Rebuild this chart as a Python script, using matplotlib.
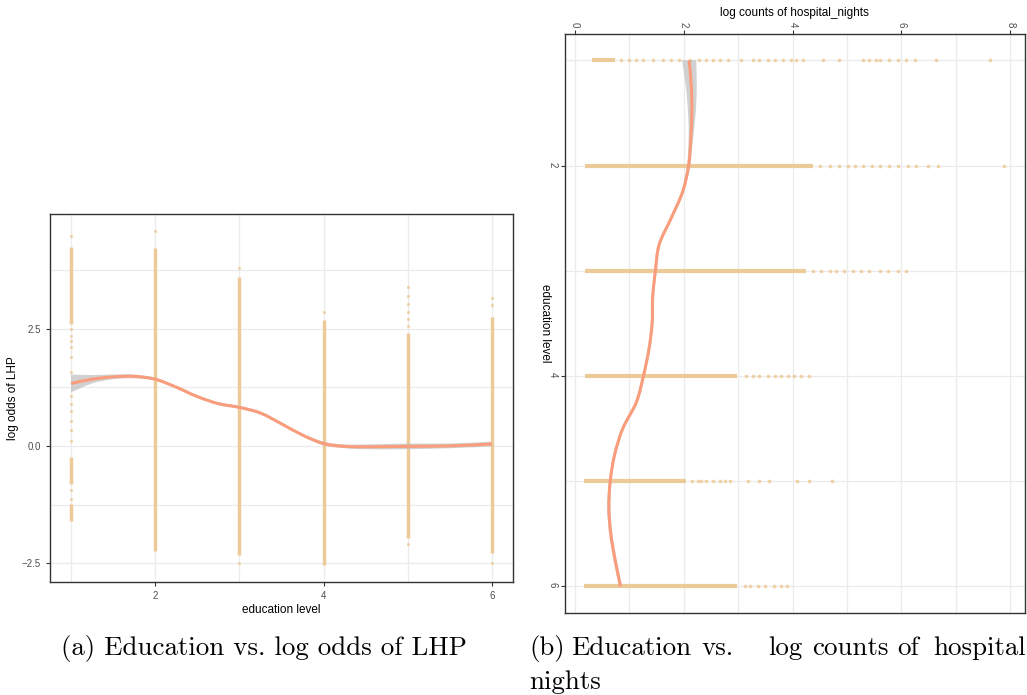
import numpy as np
import matplotlib
matplotlib.use('Agg')
import matplotlib.pyplot as plt
from matplotlib.path import Path
from matplotlib.patches import PathPatch

plt.rcParams['font.family'] = ['Liberation Sans', 'DejaVu Sans']

# ---- panel (a): education level vs log odds of LHP ----
edu_levels = [1, 2, 3, 4, 5, 6]
# dense strips of points per level: (level, y_low, y_high)
lhp_strips = [
    (1, 2.60, 4.23), (1, -0.81, -0.24), (1, -1.59, -1.23),
    (2, -2.25, 4.21),
    (3, -2.32, 3.60),
    (4, -2.53, 2.68),
    (5, -1.96, 2.40),
    (6, -2.28, 2.75),
]
# sparse single points
lhp_pts_x = [1, 1, 1, 1, 1, 1, 1, 1, 1, 1, 1, 1, 1, 1, 1,
             2, 3, 3, 4, 5, 5, 5, 5, 5, 5, 5, 6, 6, 6]
lhp_pts_y = [4.47, 2.49, 2.35, 2.24, 2.10, 1.89, 1.57, 1.07, 0.89, 0.75, 0.54, 0.33, 0.11, -0.95, -1.13,
             4.58, 3.78, -2.50, 2.86, 3.39, 3.20, 3.02, 2.85, 2.70, 2.55, -2.10, 3.14, 3.00, -2.50]
# smooth fit
lhp_fit_x = [1.0, 1.25, 1.5, 1.75, 2.0, 2.25, 2.5, 2.75, 3.0, 3.25, 3.5, 3.75, 4.0, 4.25, 4.5, 5.0, 5.5, 6.0]
lhp_fit_y = [1.33, 1.42, 1.47, 1.48, 1.42, 1.25, 1.05, 0.90, 0.82, 0.70, 0.47, 0.23, 0.05, -0.01, -0.02, -0.01, 0.00, 0.04]
lhp_fit_se = [0.19, 0.09, 0.05, 0.04, 0.03, 0.03, 0.03, 0.03, 0.03, 0.03, 0.03, 0.03, 0.04, 0.04, 0.05, 0.06, 0.05, 0.05]

# ---- panel (b): education level vs log counts of hospital nights ----
nights_strips = [
    (1, 0.32, 0.73),
    (2, 0.19, 4.37),
    (3, 0.19, 4.25),
    (4, 0.19, 2.97),
    (5, 0.16, 2.05),
    (6, 0.16, 2.97),
]
nights_pts = {
    1: [0.85, 1.00, 1.13, 1.25, 1.43, 1.62, 1.77, 1.92, 2.11, 2.29, 2.41, 2.54, 2.66, 2.81, 3.06, 3.27,
        3.39, 3.55, 3.67, 3.82, 3.98, 4.07, 4.19, 4.56, 4.86, 5.29, 5.41, 5.54, 5.60, 5.78, 5.93, 6.09,
        6.24, 6.64, 7.62],
    2: [4.50, 4.68, 4.86, 5.02, 5.14, 5.29, 5.45, 5.60, 5.78, 5.93, 6.12, 6.27, 6.49, 6.67, 7.88],
    3: [4.37, 4.53, 4.68, 4.80, 4.95, 5.11, 5.26, 5.41, 5.60, 5.75, 5.93, 6.09],
    4: [3.15, 3.27, 3.39, 3.55, 3.67, 3.79, 3.91, 4.02, 4.16, 4.30],
    5: [2.16, 2.26, 2.32, 2.41, 2.54, 2.66, 2.75, 2.85, 3.18, 3.39, 3.56, 4.08, 4.30, 4.73],
    6: [3.12, 3.21, 3.36, 3.50, 3.65, 3.78, 3.90],
}
nights_fit_edu = [1.0, 1.25, 1.5, 1.75, 2.0, 2.25, 2.5, 2.75, 3.0, 3.25, 3.5, 3.75, 4.0, 4.25, 4.5, 4.75,
                  5.0, 5.25, 5.5, 5.75, 6.0]
nights_fit_val = [2.10, 2.14, 2.15, 2.13, 2.09, 1.98, 1.77, 1.55, 1.48, 1.43, 1.42, 1.36, 1.26, 1.13, 0.88,
                  0.73, 0.65, 0.625, 0.66, 0.74, 0.84]
nights_fit_se = [0.13, 0.10, 0.07, 0.04, 0.03, 0.025, 0.025, 0.025, 0.025, 0.025, 0.025, 0.025, 0.025, 0.025,
                 0.025, 0.025, 0.025, 0.03, 0.03, 0.03, 0.03]

pt_color = '#EDC994'
fit_color = '#F99D7C'
band_color = '#BEBEBE'
grid_color = '#EBEBEB'


def curve_segments(xs, ys):
    # cubic bezier control points through the read points (Catmull-Rom)
    p = np.column_stack([xs, ys]).astype(float)
    n = len(p)
    verts, codes = [], []
    for i in range(n - 1):
        p0 = p[max(i - 1, 0)]
        p1 = p[i]
        p2 = p[i + 1]
        p3 = p[min(i + 2, n - 1)]
        verts += [p1 + (p2 - p0) / 6, p2 - (p3 - p1) / 6, p2]
        codes += [Path.CURVE4] * 3
    return verts, codes


def smooth_line(ax, xs, ys, **kw):
    v, c = curve_segments(xs, ys)
    path = Path([(xs[0], ys[0])] + v, [Path.MOVETO] + c)
    ax.add_patch(PathPatch(path, fill=False, **kw))


def smooth_band(ax, xs, lo, hi, horizontal=True, **kw):
    xs = np.asarray(xs, float)
    lo = np.asarray(lo, float)
    hi = np.asarray(hi, float)
    if horizontal:
        up_v, up_c = curve_segments(xs, hi)
        dn_v, dn_c = curve_segments(xs[::-1], lo[::-1])
        start, mid = (xs[0], hi[0]), (xs[-1], lo[-1])
    else:
        up_v, up_c = curve_segments(hi, xs)
        dn_v, dn_c = curve_segments(lo[::-1], xs[::-1])
        start, mid = (hi[0], xs[0]), (lo[-1], xs[-1])
    verts = [start] + up_v + [mid] + dn_v + [start]
    codes = [Path.MOVETO] + up_c + [Path.LINETO] + dn_c + [Path.CLOSEPOLY]
    ax.add_patch(PathPatch(Path(verts, codes), linewidth=0, **kw))


def style_axes(ax):
    for s in ax.spines.values():
        s.set_color('#333333')
        s.set_linewidth(1.0)
    ax.tick_params(colors='#333333', labelcolor='#4D4D4D', labelsize=7, length=3, width=0.8)
    ax.grid(True, which='both', color=grid_color, linewidth=0.9)
    ax.set_axisbelow(True)


fig = plt.figure(figsize=(10.27, 6.95), dpi=100)

# panel (a)
ax1 = fig.add_axes([50 / 1027, 1 - 582 / 695, 463 / 1027, 368 / 695])
style_axes(ax1)
for lvl, lo, hi in lhp_strips:
    ax1.vlines(lvl, lo, hi, color=pt_color, linewidth=2.5, alpha=0.95, zorder=2)
ax1.scatter(lhp_pts_x, lhp_pts_y, s=5, color=pt_color, alpha=0.8, linewidths=0, zorder=2)
fx = np.array(lhp_fit_x)
fy = np.array(lhp_fit_y)
fs = np.array(lhp_fit_se)
smooth_band(ax1, fx, fy - fs, fy + fs, horizontal=True, color=band_color, alpha=0.7, zorder=3)
smooth_line(ax1, fx, fy, color=fit_color, linewidth=2.2, zorder=4)
ax1.set_xlim(0.75, 6.25)
ax1.set_ylim(-2.9, 4.94)
ax1.set_xticks([2, 4, 6])
ax1.set_xticks([1, 3, 5], minor=True)
ax1.set_yticks([-2.5, 0, 2.5])
ax1.set_yticklabels(['\u22122.5', '0.0', '2.5'])
ax1.set_yticks([-1.25, 1.25, 3.75], minor=True)
ax1.tick_params(which='minor', length=0)
ax1.set_xlabel('education level', fontsize=8.5, labelpad=2)
ax1.set_ylabel('log odds of LHP', fontsize=8.5)
ax1.yaxis.set_label_coords(-0.068, 0.5)

# panel (b), drawn rotated: log counts along x (top), education level down the y axis
ax2 = fig.add_axes([564.5 / 1027, 1 - 612.7 / 695, 460.5 / 1027, 578.7 / 695])
style_axes(ax2)
for lvl, lo, hi in nights_strips:
    ax2.hlines(lvl, lo, hi, color=pt_color, linewidth=3.0, alpha=0.95, zorder=2)
for lvl, vals in nights_pts.items():
    ax2.scatter(vals, [lvl] * len(vals), s=7, color=pt_color, alpha=0.8, linewidths=0, zorder=2)
ge = np.array(nights_fit_edu)
gv = np.array(nights_fit_val)
gs = np.array(nights_fit_se)
smooth_band(ax2, ge, gv - gs, gv + gs, horizontal=False, color=band_color, alpha=0.7, zorder=3)
smooth_line(ax2, gv, ge, color=fit_color, linewidth=2.2, zorder=4)
ax2.set_xlim(-0.19, 8.27)
ax2.set_ylim(6.25, 0.75)
ax2.xaxis.tick_top()
ax2.xaxis.set_label_position('top')
ax2.set_xticks([0, 2, 4, 6, 8])
ax2.set_xticks([1, 3, 5, 7], minor=True)
ax2.set_yticks([2, 4, 6])
ax2.set_yticks([1, 3, 5], minor=True)
ax2.tick_params(which='minor', length=0)
ax2.tick_params(axis='x', labelrotation=-90, pad=2)
ax2.tick_params(axis='y', labelrotation=-90, pad=2)
ax2.set_xlabel('log counts of hospital_nights', fontsize=8.5, labelpad=4)
ax2.set_ylabel('education level', fontsize=8.5, rotation=-90, labelpad=6, va='bottom')

# captions (justified LaTeX-style spacing, placed word by word)
cap_font = dict(family='cmr10', fontsize=19.4, va='center', ha='left')
fig.text(61 / 1027, 1 - 648 / 695, '(a) Education vs. log odds of LHP', **cap_font)
cap_b_words = ['(b)', 'Education', 'vs.', 'log', 'counts', 'of', 'hospital']
cap_b_x = [529, 571, 702, 768, 812, 897, 933]
for w, xp in zip(cap_b_words, cap_b_x):
    fig.text(xp / 1027, 1 - 648 / 695, w, **cap_font)
fig.text(529 / 1027, 1 - 682 / 695, 'nights', **cap_font)

fig.savefig('out.png', dpi=100)
